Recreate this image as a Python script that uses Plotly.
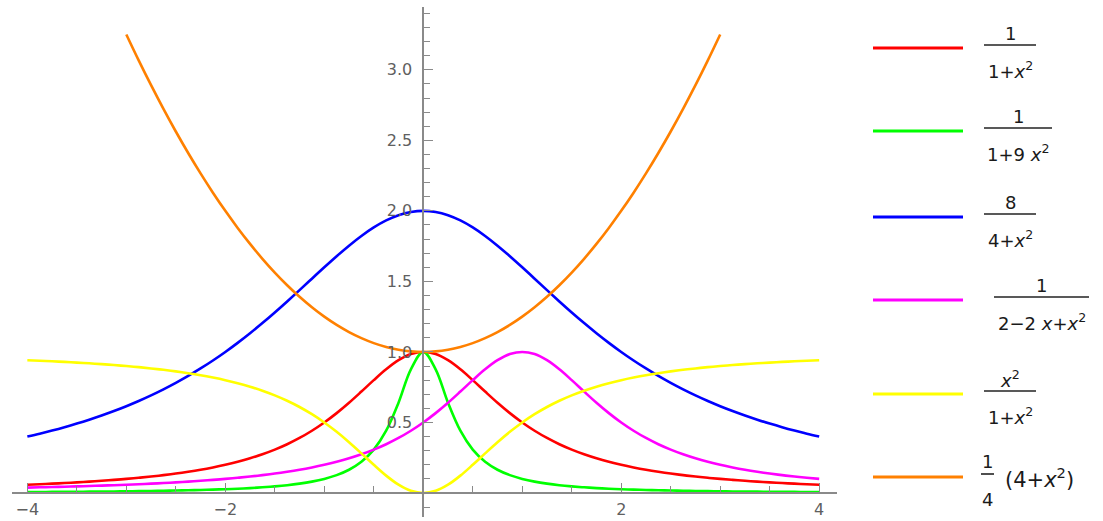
import plotly.graph_objects as go

# ---------------- data ----------------
x_vals = [-4, -3.875, -3.75, -3.625, -3.5, -3.375, -3.25, -3.125, -3, -2.875, -2.75, -2.625, -2.5,
          -2.375, -2.25, -2.125, -2, -1.875, -1.75, -1.625, -1.5, -1.375, -1.25, -1.125, -1,
          -0.875, -0.75, -0.625, -0.5, -0.375, -0.25, -0.125, 0,
          0.125, 0.25, 0.375, 0.5, 0.625, 0.75, 0.875, 1, 1.125, 1.25, 1.375, 1.5, 1.625, 1.75,
          1.875, 2, 2.125, 2.25, 2.375, 2.5, 2.625, 2.75, 2.875, 3, 3.125, 3.25, 3.375, 3.5,
          3.625, 3.75, 3.875, 4]

red_vals = [0.0588, 0.0624, 0.0664, 0.0707, 0.0755, 0.0807, 0.0865, 0.0929, 0.1, 0.1079, 0.1168, 0.1267, 0.1379,
            0.1506, 0.1649, 0.1813, 0.2, 0.2215, 0.2462, 0.2747, 0.3077, 0.3459, 0.3902, 0.4414, 0.5,
            0.5664, 0.64, 0.7191, 0.8, 0.8767, 0.9412, 0.9846, 1.0,
            0.9846, 0.9412, 0.8767, 0.8, 0.7191, 0.64, 0.5664, 0.5, 0.4414, 0.3902, 0.3459, 0.3077, 0.2747, 0.2462,
            0.2215, 0.2, 0.1813, 0.1649, 0.1506, 0.1379, 0.1267, 0.1168, 0.1079, 0.1, 0.0929, 0.0865, 0.0807, 0.0755,
            0.0707, 0.0664, 0.0624, 0.0588]

green_vals = [0.0069, 0.0073, 0.0078, 0.0084, 0.0090, 0.0097, 0.0104, 0.0112, 0.0122, 0.0133, 0.0145, 0.0159, 0.0175,
              0.0193, 0.0215, 0.0240, 0.0270, 0.0306, 0.0350, 0.0404, 0.0471, 0.0555, 0.0664, 0.0807, 0.1,
              0.1267, 0.1649, 0.2215, 0.3077, 0.4414, 0.64, 0.8767, 1.0,
              0.8767, 0.64, 0.4414, 0.3077, 0.2215, 0.1649, 0.1267, 0.1, 0.0807, 0.0664, 0.0555, 0.0471, 0.0404, 0.0350,
              0.0306, 0.0270, 0.0240, 0.0215, 0.0193, 0.0175, 0.0159, 0.0145, 0.0133, 0.0122, 0.0112, 0.0104, 0.0097, 0.0090,
              0.0084, 0.0078, 0.0073, 0.0069]

blue_vals = [0.4, 0.4207, 0.4429, 0.4667, 0.4923, 0.5198, 0.5494, 0.5812, 0.6154, 0.6522, 0.6919, 0.7346, 0.7805,
             0.8298, 0.8828, 0.9394, 1.0, 1.0644, 1.1327, 1.2047, 1.28, 1.3581, 1.4382, 1.5193, 1.6,
             1.6787, 1.7534, 1.8221, 1.8824, 1.9321, 1.9692, 1.9922, 2.0,
             1.9922, 1.9692, 1.9321, 1.8824, 1.8221, 1.7534, 1.6787, 1.6, 1.5193, 1.4382, 1.3581, 1.28, 1.2047, 1.1327,
             1.0644, 1.0, 0.9394, 0.8828, 0.8298, 0.7805, 0.7346, 0.6919, 0.6522, 0.6154, 0.5812, 0.5494, 0.5198, 0.4923,
             0.4667, 0.4429, 0.4207, 0.4]

magenta_vals = [0.0385, 0.0404, 0.0424, 0.0447, 0.0471, 0.0497, 0.0525, 0.0555, 0.0588, 0.0624, 0.0664, 0.0707, 0.0755,
                0.0807, 0.0865, 0.0929, 0.1, 0.1079, 0.1168, 0.1267, 0.1379, 0.1506, 0.1649, 0.1813, 0.2,
                0.2215, 0.2462, 0.2747, 0.3077, 0.3459, 0.3902, 0.4414, 0.5,
                0.5664, 0.64, 0.7191, 0.8, 0.8767, 0.9412, 0.9846, 1.0, 0.9846, 0.9412, 0.8767, 0.8, 0.7191, 0.64,
                0.5664, 0.5, 0.4414, 0.3902, 0.3459, 0.3077, 0.2747, 0.2462, 0.2215, 0.2, 0.1813, 0.1649, 0.1506, 0.1379,
                0.1267, 0.1168, 0.1079, 0.1]

yellow_vals = [0.9412, 0.9376, 0.9336, 0.9293, 0.9245, 0.9193, 0.9135, 0.9071, 0.9, 0.8921, 0.8832, 0.8733, 0.8621,
               0.8494, 0.8351, 0.8187, 0.8, 0.7785, 0.7538, 0.7253, 0.6923, 0.6541, 0.6098, 0.5586, 0.5,
               0.4336, 0.36, 0.2809, 0.2, 0.1233, 0.0588, 0.0154, 0.0,
               0.0154, 0.0588, 0.1233, 0.2, 0.2809, 0.36, 0.4336, 0.5, 0.5586, 0.6098, 0.6541, 0.6923, 0.7253, 0.7538,
               0.7785, 0.8, 0.8187, 0.8351, 0.8494, 0.8621, 0.8733, 0.8832, 0.8921, 0.9, 0.9071, 0.9135, 0.9193, 0.9245,
               0.9293, 0.9336, 0.9376, 0.9412]

orange_vals = [None, None, None, None, None, None, None, None, 3.25, 3.0664, 2.8906, 2.7227, 2.5625,
               2.4102, 2.2656, 2.1289, 2.0, 1.8789, 1.7656, 1.6602, 1.5625, 1.4727, 1.3906, 1.3164, 1.25,
               1.1914, 1.1406, 1.0977, 1.0625, 1.0352, 1.0156, 1.0039, 1.0,
               1.0039, 1.0156, 1.0352, 1.0625, 1.0977, 1.1406, 1.1914, 1.25, 1.3164, 1.3906, 1.4727, 1.5625, 1.6602, 1.7656,
               1.8789, 2.0, 2.1289, 2.2656, 2.4102, 2.5625, 2.7227, 2.8906, 3.0664, 3.25, None, None, None, None,
               None, None, None, None]

x_tick_vals = [-4, -2, 2, 4]
x_tick_text = ["\u22124", "\u22122", "2", "4"]
y_tick_vals = [0.5, 1.0, 1.5, 2.0, 2.5, 3.0]
y_tick_text = ["0.5", "1.0", "1.5", "2.0", "2.5", "3.0"]

series_colors = ["#FF0000", "#00FF00", "#0000FF", "#FF00FF", "#FFFF00", "#FF8000"]
series_values = [red_vals, green_vals, blue_vals, magenta_vals, yellow_vals, orange_vals]

# legend labels: (numerator, denominator)
legend_labels = [
    ("1", "1+<i>x</i><sup>2</sup>"),
    ("1", "1+9 <i>x</i><sup>2</sup>"),
    ("8", "4+<i>x</i><sup>2</sup>"),
    ("1", "2\u22122 <i>x</i>+<i>x</i><sup>2</sup>"),
    ("<i>x</i><sup>2</sup>", "1+<i>x</i><sup>2</sup>"),
    ("1", "4"),
]
orange_tail = "(4+<i>x</i><sup>2</sup>)"

# ---------------- figure ----------------
W, H = 1103, 521
L, R, T, B = 12, 266, 7, 4
PW, PH = W - L - R, H - T - B
x_range = [-4.155, 4.18]
y_range = [-0.17, 3.445]


def PX(p):
    return (p - L) / PW


def PY(p):
    return (H - B - p) / PH


fig = go.Figure()
for ys, col in zip(series_values, series_colors):
    fig.add_trace(go.Scatter(x=x_vals, y=ys, mode="lines",
                             line=dict(color=col, width=2.6, shape="spline", smoothing=1.0),
                             connectgaps=False, showlegend=False, hoverinfo="skip"))

AX = "#8a8a8a"
TICKFONT = dict(family="DejaVu Sans", size=16, color="#606060")

fig.update_xaxes(range=x_range, anchor="free", automargin=False,
                 position=(0 - y_range[0]) / (y_range[1] - y_range[0]),
                 showline=True, linecolor=AX, linewidth=1.6, showgrid=False, zeroline=False,
                 tickmode="array", tickvals=x_tick_vals, ticktext=x_tick_text,
                 ticks="inside", ticklen=9, tickwidth=1.2, tickcolor=AX, tickfont=TICKFONT,
                 ticklabelstandoff=2,
                 minor=dict(tickmode="linear", tick0=0, dtick=0.5, ticks="inside",
                            ticklen=6, tickwidth=1.2, tickcolor=AX))
fig.update_yaxes(range=y_range, anchor="free", automargin=False,
                 position=(0 - x_range[0]) / (x_range[1] - x_range[0]),
                 showline=True, linecolor=AX, linewidth=1.6, showgrid=False, zeroline=False,
                 tickmode="array", tickvals=y_tick_vals, ticktext=y_tick_text,
                 ticks="inside", ticklen=9, tickwidth=1.2, tickcolor=AX, tickfont=TICKFONT,
                 ticklabelstandoff=7,
                 minor=dict(tickmode="linear", tick0=0, dtick=0.1, ticks="inside",
                            ticklen=6, tickwidth=1.2, tickcolor=AX))

# ---------------- manual legend ----------------
line_y = [48, 131, 217, 300, 394, 477]
bar_spans = [(984, 1036), (984, 1052), (984, 1036), (994, 1089), (984, 1036), (981, 994)]
LEGFONT = dict(family="DejaVu Sans", size=18, color="#1a1a1a")
shapes = []
annotations = []
for i, col in enumerate(series_colors):
    ly = line_y[i]
    shapes.append(dict(type="line", xref="paper", yref="paper",
                       x0=PX(873), x1=PX(963), y0=PY(ly), y1=PY(ly),
                       line=dict(color=col, width=3)))
    b0, b1 = bar_spans[i]
    shapes.append(dict(type="line", xref="paper", yref="paper",
                       x0=PX(b0), x1=PX(b1), y0=PY(ly - 3), y1=PY(ly - 3),
                       line=dict(color="#222222", width=1.6)))
    num, den = legend_labels[i]
    cx = (b0 + b1) / 2
    annotations.append(dict(text=num, xref="paper", yref="paper", x=PX(cx), y=PY(ly - 15),
                            xanchor="center", yanchor="middle", showarrow=False, font=LEGFONT))
    annotations.append(dict(text=den, xref="paper", yref="paper", x=PX(cx), y=PY(ly + 22),
                            xanchor="center", yanchor="middle", showarrow=False, font=LEGFONT))
annotations.append(dict(text=orange_tail, xref="paper", yref="paper", x=PX(1003), y=PY(478),
                        xanchor="left", yanchor="middle", showarrow=False,
                        font=dict(family="DejaVu Sans", size=21, color="#1a1a1a")))

fig.update_layout(width=W, height=H, margin=dict(l=L, r=R, t=T, b=B, autoexpand=False),
                  paper_bgcolor="white", plot_bgcolor="white", showlegend=False,
                  shapes=shapes, annotations=annotations)

fig.write_html("out.html", config={"displayModeBar": False},
               post_script="document.body.style.margin='0';document.body.style.overflow='hidden';")
